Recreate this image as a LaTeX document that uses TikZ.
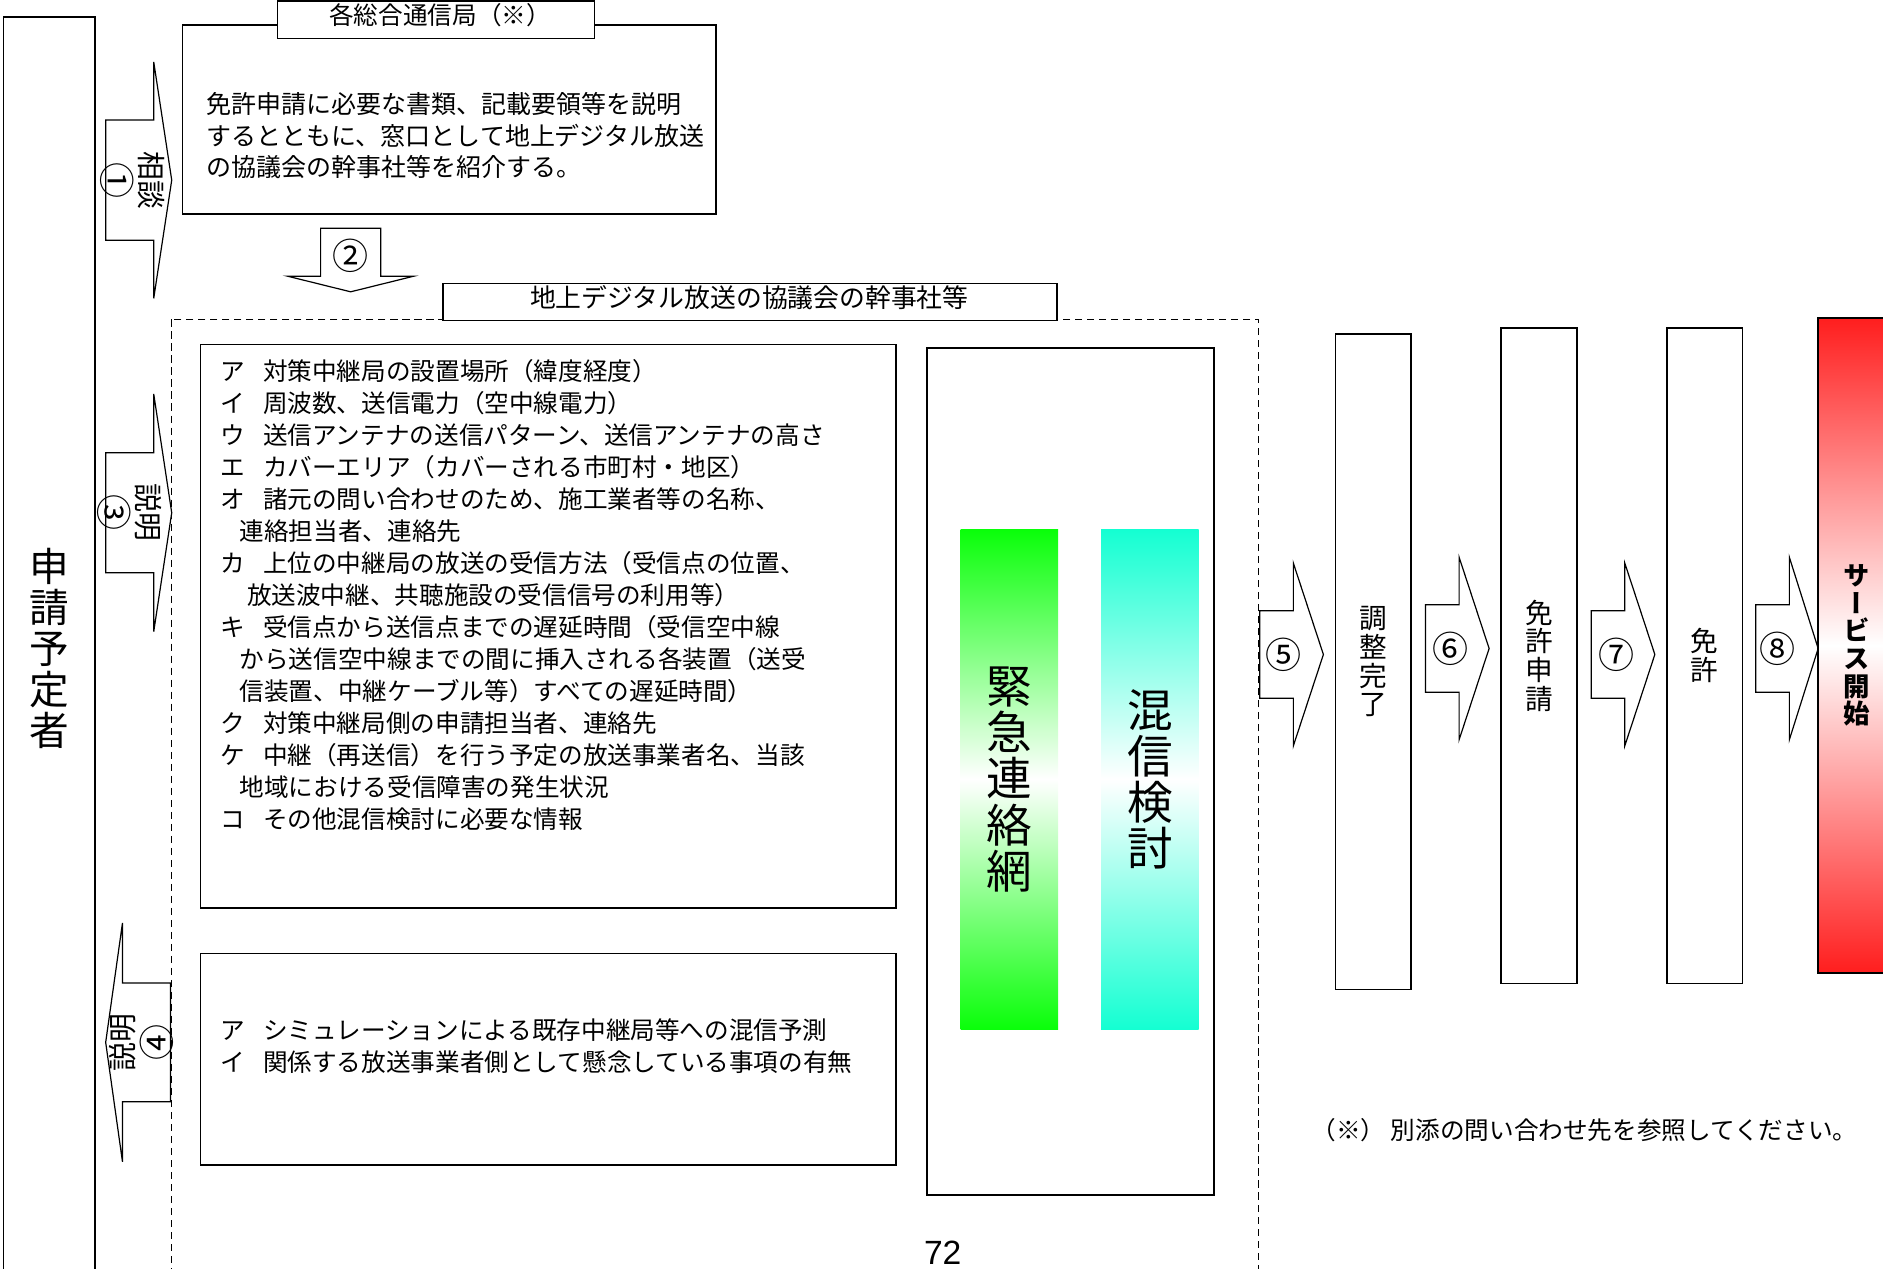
\documentclass[tikz,border=0pt]{standalone}
\usepackage{fontspec}
\setmainfont{Noto Sans CJK JP}
\newfontfamily\tatefont[RawFeature=+vert]{Noto Sans CJK JP}
\newfontfamily\pagefont{Liberation Sans}
\definecolor{renrakugreen}{RGB}{10,255,10}
\definecolor{konshincyan}{RGB}{20,255,210}
\definecolor{kaishired}{RGB}{255,30,30}
\newcommand{\itemgap}{\hspace{.75em}}
\newcommand{\contindent}{\hspace*{.8em}}
\newcommand{\maru}[1]{{\fontsize{30}{31}\selectfont #1}}
\newcommand{\flowarrow}[7]{%
    \begin{scope}[shift={#2}, rotate=#3]
        \draw[arrowshape] (0,-#6) -- (#4,-#6) -- (#4,-#7) -- (#5,0) -- (#4,#7) -- (#4,#6) -- (0,#6) -- cycle;
        \coordinate (#1) at (#4/2,0);
    \end{scope}}
\tikzset{
    flowbox/.style={draw, line width=1.3pt, inner sep=0pt},
    titlebox/.style={draw, fill=white, line width=1.3pt, inner sep=0pt},
    titletext/.style={inner sep=0pt, font=\fontsize{20.5}{24}\selectfont},
    itemtext/.style={inner sep=0pt, align=left, anchor=west, font=\fontsize{20.5}{26.6}\selectfont},
    arrowshape/.style={draw, fill=white, line width=1pt},
    numlabel/.style={inner sep=0pt, font=\fontsize{30}{30}\selectfont},
    sidelabel/.style={inner sep=0pt, align=center, font=\fontsize{24}{31}\selectfont},
    stepbox/.style={flowbox, minimum width=63, minimum height=546, align=center, font=\fontsize{23}{24}\selectfont},
    barbox/.style={inner sep=0pt, minimum width=81, minimum height=416, align=center, font=\fontsize{38}{38.5}\selectfont},
    groupline/.style={dash pattern=on 6pt off 4pt, line width=0.9pt}
}

\begin{document}
\begin{tikzpicture}[x=1pt, y=-1pt]
    \useasboundingbox (0,0) rectangle (1568,1056);

    \node[flowbox, minimum width=76, minimum height=1052, align=center,
        font=\fontsize{33}{34}\selectfont] (applicant) at (41,540) {申\\請\\予\\定\\者};

    \node[flowbox, minimum width=444, minimum height=157] (kyoku) at (374,99.5) {};
    \node[itemtext, font=\fontsize{20.8}{26}\selectfont] (kyokutext) at (172,113) {%
        免許申請に必要な書類、記載要領等を説明\\
        するとともに、窓口として地上デジタル放送\\
        の協議会の幹事社等を紹介する。};
    \node[titlebox, minimum width=264, minimum height=31] (kyokuhdr) at (363,16.5) {};
    \node[titletext] (kyokuhdrtext) at (366.5,12.5) {各総合通信局（※）};

    \flowarrow{soudan}{(88,150)}{0}{40}{55}{50}{98.5}
    \node[sidelabel, rotate=-90] (soudanlabel) at ([xshift=2.5pt]soudan) {相談\\\maru{①}};

    \flowarrow{shoukai}{(292,190)}{-90}{40}{53}{25}{52.5}
    \node[numlabel] (shoukailabel) at ([yshift=-3pt]shoukai) {②};

    \draw[groupline] (143,266) rectangle (1048,1080);
    \node[titlebox, minimum width=511, minimum height=31] (kyogihdr) at (624.5,251.5) {};
    \node[titletext, font=\fontsize{21.5}{24}\selectfont] (kyogihdrtext) at (624,247.5) {地上デジタル放送の協議会の幹事社等};

    \node[flowbox, minimum width=579, minimum height=469] (shogen) at (456.5,521.5) {};
    \node[itemtext] (shogentext) at (183,495.5) {%
        ア\itemgap 対策中継局の設置場所（緯度経度）\\
        イ\itemgap 周波数、送信電力（空中線電力）\\
        ウ\itemgap 送信アンテナの送信パターン、送信アンテナの高さ\\
        エ\itemgap カバーエリア（カバーされる市町村・地区）\\
        オ\itemgap 諸元の問い合わせのため、施工業者等の名称、\\
        \contindent 連絡担当者、連絡先\\
        カ\itemgap 上位の中継局の放送の受信方法（受信点の位置、\\
        \hspace*{1.1em}放送波中継、共聴施設の受信信号の利用等）\\
        キ\itemgap 受信点から送信点までの遅延時間（受信空中線\\
        \contindent から送信空中線までの間に挿入される各装置（送受\\
        \contindent 信装置、中継ケーブル等）すべての遅延時間）\\
        ク\itemgap 対策中継局側の申請担当者、連絡先\\
        ケ\itemgap 中継（再送信）を行う予定の放送事業者名、当該\\
        \contindent 地域における受信障害の発生状況\\
        コ\itemgap その他混信検討に必要な情報};

    \node[flowbox, minimum width=579, minimum height=176] (yosoku) at (456.5,882) {};
    \node[itemtext] (yosokutext) at (183,871) {%
        ア\itemgap シミュレーションによる既存中継局等への混信予測\\
        イ\itemgap 関係する放送事業者側として懸念している事項の有無};

    \flowarrow{setsumei}{(88,427)}{0}{40}{55}{50}{99}
    \node[sidelabel, rotate=-90] (setsumeilabel) at (setsumei) {説明\\\maru{③}};

    \flowarrow{kaito}{(142,868)}{180}{40}{54}{49.5}{99.5}
    \node[sidelabel, rotate=90] (kaitolabel) at ([xshift=-4pt]kaito) {説明\\\maru{④}};

    \node[flowbox, minimum width=239, minimum height=705] (kentou) at (891.5,642.5) {};
    \node[barbox, top color=renrakugreen, bottom color=renrakugreen, middle color=white] (kinkyu) at (840.5,649) {緊\\急\\連\\絡\\網};
    \node[barbox, top color=konshincyan, bottom color=konshincyan, middle color=white] (konshin) at (957.5,649) {混\\信\\検\\討};

    \flowarrow{arrfive}{(1049,545)}{0}{28}{53}{36.5}{76}
    \node[numlabel] (arrfivelabel) at ([xshift=6pt]arrfive) {⑤};
    \node[stepbox] (chosei) at (1143.5,551) {調\\整\\完\\了};

    \flowarrow{arrsix}{(1187,540)}{0}{28}{53}{36.5}{76}
    \node[numlabel] (arrsixlabel) at ([xshift=7pt]arrsix) {⑥};
    \node[stepbox] (shinsei) at (1281.5,546) {免\\許\\申\\請};

    \flowarrow{arrseven}{(1325,545)}{0}{28}{53}{36.5}{76}
    \node[numlabel] (arrsevenlabel) at ([xshift=7pt]arrseven) {⑦};
    \node[stepbox] (menkyo) at (1419.5,546) {免\\許};

    \flowarrow{arreight}{(1462,540)}{0}{28}{52}{36.5}{76}
    \node[numlabel] (arreightlabel) at ([xshift=4pt]arreight) {⑧};
    \node[flowbox, top color=kaishired, bottom color=kaishired, middle color=white,
        minimum width=64, minimum height=545, align=center,
        font=\tatefont\bfseries\fontsize{22}{23}\selectfont] (kaishi) at (1546,537.5) {サ\\ー\\ビ\\ス\\開\\始};

    \node[inner sep=0pt, anchor=west, font=\fontsize{20.5}{24}\selectfont] (chuki) at (1092,941) {（※） 別添の問い合わせ先を参照してください。};
    \node[inner sep=0pt, anchor=base, font=\pagefont\fontsize{28}{28}\selectfont] (pagenum) at (785,1053) {72};
\end{tikzpicture}
\end{document}
